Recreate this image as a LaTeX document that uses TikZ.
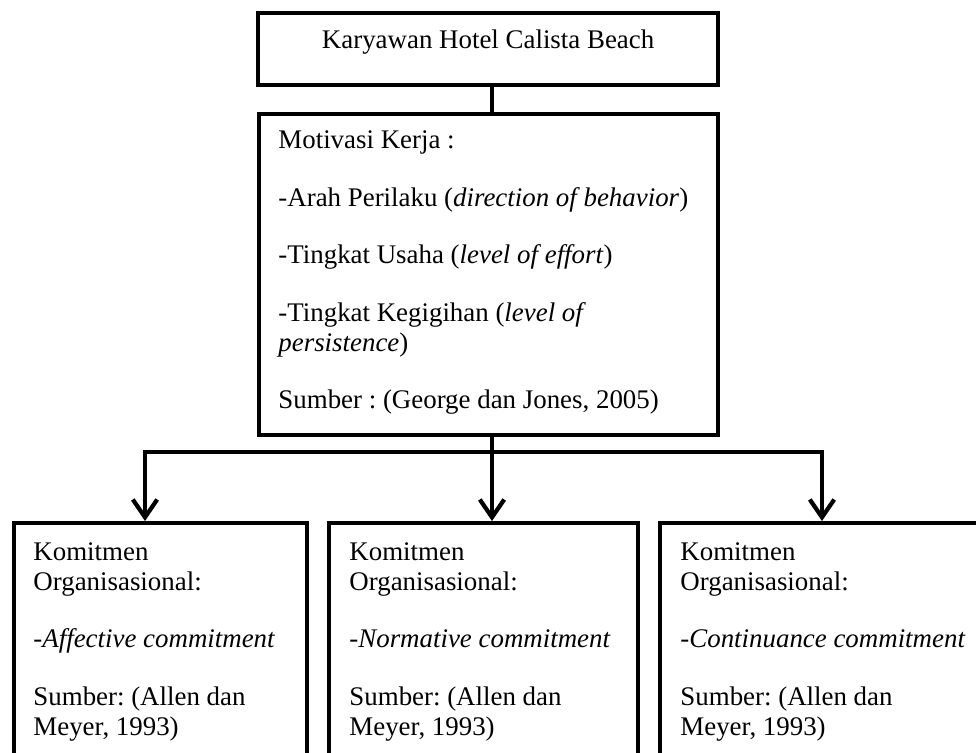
\documentclass[tikz,border=0pt]{standalone}
\usepackage{fontspec}
\setmainfont{Liberation Serif}
\usetikzlibrary{arrows.meta,positioning,calc}
\def\pxu{0.45pt}

\begin{document}
\frenchspacing
\begin{tikzpicture}[x=0.45pt, y=-0.45pt,
    font=\fontsize{12.1pt}{13.5pt}\selectfont,
    frame/.style={draw, line width=1.9pt, inner sep=0pt, anchor=north west},
    boxtext/.style={anchor=north west, align=left, inner sep=0pt,
      execute at begin node={\rule{0pt}{10pt}}},
    link/.style={line width=1.9pt},
    flow/.style={link, -{Straight Barb[length=8pt,width=11pt]}}]
  \clip (0,0) rectangle (976,753);
  % Employees
  \node[frame, minimum width=460*\pxu, minimum height=72*\pxu] (emp) at (256,11) {};
  \node[anchor=base, inner sep=0pt] (empText) at ($(emp.north)+(0,38)$) {Karyawan Hotel Calista Beach};
  % Work motivation
  \node[frame, minimum width=459*\pxu, minimum height=321*\pxu] (motiv) at (257,112) {};
  \node[boxtext] (motivText) at ($(motiv.north west)+(21,18.5)$) {Motivasi Kerja :\\[12.4pt]
    -Arah Perilaku (\textit{direction of behavior})\\[12.4pt]
    -Tingkat Usaha (\textit{level of effort})\\[12.4pt]
    -Tingkat Kegigihan (\textit{level of}\\
    \textit{persistence})\\[12.4pt]
    Sumber : (George dan Jones, 2005)};
  % Organisational commitment
  \node[frame, minimum width=293*\pxu, minimum height=254*\pxu] (affect) at (12,521) {};
  \node[frame, minimum width=309*\pxu, minimum height=254*\pxu] (norm) at (327,521) {};
  \node[frame, minimum width=342*\pxu, minimum height=254*\pxu] (cont) at (658,521) {};
  \node[boxtext] (affectText) at ($(affect.north west)+(21,21)$) {Komitmen\\
    Organisasional:\\[12.4pt]
    -\textit{Affective commitment}\\[12.4pt]
    Sumber: (Allen dan\\
    Meyer, 1993)};
  \node[boxtext] (normText) at ($(norm.north west)+(22,21)$) {Komitmen\\
    Organisasional:\\[12.4pt]
    -\textit{Normative commitment}\\[12.4pt]
    Sumber: (Allen dan\\
    Meyer, 1993)};
  \node[boxtext] (contText) at ($(cont.north west)+(22,21)$) {Komitmen\\
    Organisasional:\\[12.4pt]
    -\textit{Continuance commitment}\\[12.4pt]
    Sumber: (Allen dan\\
    Meyer, 1993)};
  % Connectors
  \coordinate (split) at (492,452);
  \coordinate (barL) at (145,452);
  \coordinate (barR) at (822,452);
  \draw[link] (emp.south -| split) -- (motiv.north -| split);
  \draw[flow] (motiv.south -| split) -- (norm.north -| split);
  \draw[flow] (split) -| (barL |- affect.north);
  \draw[flow] (split) -| (barR |- cont.north);
\end{tikzpicture}
\end{document}
